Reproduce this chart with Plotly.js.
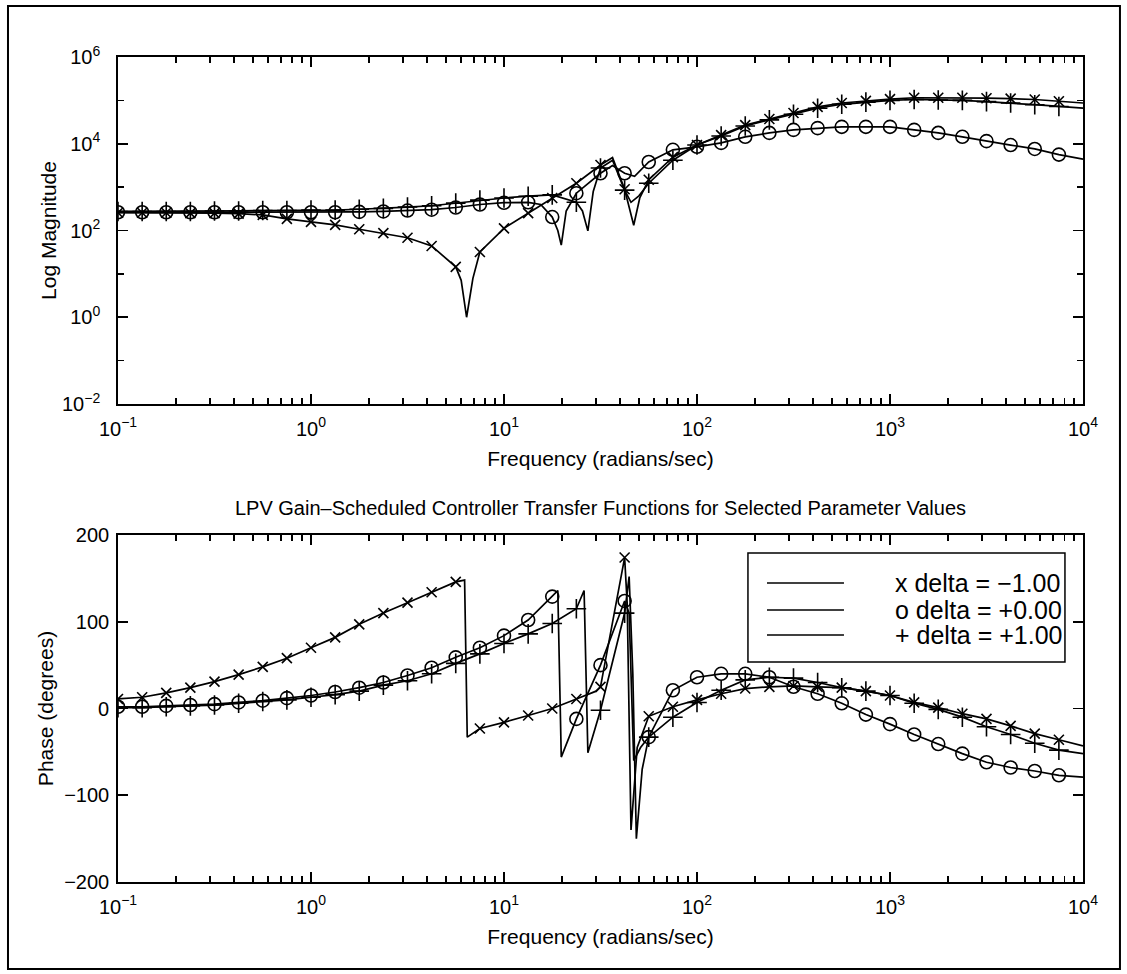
<!DOCTYPE html>
<html>
<head>
<meta charset="utf-8">
<script src="https://cdn.plot.ly/plotly-3.0.1.min.js"></script>
<style>
html,body{margin:0;padding:0;background:#ffffff;}
#chart{width:1127px;height:974px;}
</style>
</head>
<body>
<div id="chart"></div>
<script>
// ---------- data ----------
// frequency grid (rad/s) of the plotted points (markers on all but the last)
const freq = [0.1,0.1334,0.1778,0.2371,0.3162,0.4217,0.5623,0.7499,1,1.334,1.778,2.371,3.162,4.217,5.623,7.499,10,13.34,17.78,23.71,31.62,42.17,56.23,74.99,100,133.4,177.8,237.1,316.2,421.7,562.3,749.9,1000,1334,1778,2371,3162,4217,5623,7499,10000];

// magnitude, delta = -1.00 (x)
const magX = [257,257,257,251,251,245,229,186,158,135,107,87,68,44,14.5,32,112,251,562,1230,3236,891,1479,4898,9333,15850,26920,37150,51290,70790,87100,97720,107200,114800,114800,114800,112200,109600,104700,95500,87100];
const magXNotchF = [6.0,6.4,6.9,36.5,44,47,50.5];
const magXNotchV = [7.1,1.0,7.9,4790,398,132,562];

// magnitude, delta = +0.00 (o)
const magO = [263,263,263,263,263,263,263,263,263,263,269,275,288,302,339,398,437,447,204,724,2089,2089,3802,7244,8511,10470,14450,17780,20890,22910,24550,24550,24550,20890,17780,14450,11480,9333,7586,5623,4400];
const magONotchF = [15.5,19.0,19.8,21.0,36.5,47.5];
const magONotchV = [398,100,46,282,3162,1778];

// magnitude, delta = +1.00 (+)
const magP = [275,275,275,275,282,282,288,288,295,295,309,324,347,372,427,501,562,617,661,447,2754,851,1230,4169,9333,15140,25700,35480,47860,66070,81280,91200,100000,104700,102300,100000,93330,87100,79430,72440,66070];
const magPNotchF = [25.5,27.2,29.0,36.5,45.5,50];
const magPNotchV = [282,98,794,4169,447,631];

// phase (degrees), delta = -1.00 (x)
const phX = [11,13,18,24,31,39,48,58,70,82,97,110,122,134,146,-23,-16,-8,0,11,25,174,-9,2,10,17,23,25,26,25,24,20,15,7,1,-6,-12,-20,-29,-36,-43];
const phXJumpF = [6.25,6.45,30,43.5,45.5,49];
const phXJumpV = [148,-33,20,120,-140,-45];

// phase (degrees), delta = +0.00 (o)
const phO = [2,2,3,4,5,7,9,12,15,19,24,30,38,47,59,70,84,102,129,-12,50,124,-33,21,36,40,40,36,25,17,6,-7,-18,-30,-41,-52,-62,-68,-72,-77,-79];
const phOJumpF = [19.0,19.8,44.5,47,51];
const phOJumpV = [136,-56,110,-60,-45];

// phase (degrees), delta = +1.00 (+)
const phP = [1,1,2,3,4,6,8,10,13,16,20,27,32,40,52,63,75,86,98,115,-2,110,-33,-10,7,21,33,36,35,30,24,20,15,6,-1,-10,-21,-30,-40,-48,-52];
const phPJumpF = [26.0,27.2,44.5,46.5,48.5,52];
const phPJumpV = [136,-51,152,40,-150,-70];

const legendLabels = ['x delta = \u22121.00', 'o delta = +0.00', '+ delta = +1.00'];
const titleText = 'LPV Gain\u2013Scheduled Controller Transfer Functions for Selected Parameter Values';
const magTickVals = [0.01,1,100,10000,1000000];
const magTickText = ['10<sup>\u22122</sup>','10<sup>0</sup>','10<sup>2</sup>','10<sup>4</sup>','10<sup>6</sup>'];
const magMinorVals = [0.1,10,1000,100000];
const freqTickVals = [0.1,1,10,100,1000,10000];
const freqTickText = ['10<sup>\u22121</sup>','10<sup>0</sup>','10<sup>1</sup>','10<sup>2</sup>','10<sup>3</sup>','10<sup>4</sup>'];
const phaseTickVals = [-200,-100,0,100,200];

// ---------- build ----------
const FONT = '"Liberation Sans", Arial, Helvetica, sans-serif';
const nMarkers = freq.length - 1;

function mergeLine(f, v, ef, ev) {
  const pts = f.map((x, i) => [x, v[i]]).concat(ef.map((x, i) => [x, ev[i]]));
  pts.sort((a, b) => a[0] - b[0]);
  return {x: pts.map(p => p[0]), y: pts.map(p => p[1])};
}

const series = [
  {mag: magX, mf: magXNotchF, mv: magXNotchV, ph: phX, pf: phXJumpF, pv: phXJumpV, symbol: 'x-thin', size: 10},
  {mag: magO, mf: magONotchF, mv: magONotchV, ph: phO, pf: phOJumpF, pv: phOJumpV, symbol: 'circle-open', size: 13},
  {mag: magP, mf: magPNotchF, mv: magPNotchV, ph: phP, pf: phPJumpF, pv: phPJumpV, symbol: 'cross-thin', size: 14}
];

const traces = [];
series.forEach(s => {
  const lm = mergeLine(freq, s.mag, s.mf, s.mv);
  const lp = mergeLine(freq, s.ph, s.pf, s.pv);
  const lineStyle = {color: '#000', width: 1.7};
  const mk = {symbol: s.symbol, size: s.size, color: '#000', line: {color: '#000', width: 1.6}};
  traces.push({x: lm.x, y: lm.y, xaxis: 'x', yaxis: 'y', mode: 'lines', line: lineStyle, hoverinfo: 'skip'});
  traces.push({x: freq.slice(0, nMarkers), y: s.mag.slice(0, nMarkers), xaxis: 'x', yaxis: 'y', mode: 'markers', marker: mk, hoverinfo: 'skip'});
  traces.push({x: lp.x, y: lp.y, xaxis: 'x2', yaxis: 'y2', mode: 'lines', line: lineStyle, hoverinfo: 'skip'});
  traces.push({x: freq.slice(0, nMarkers), y: s.ph.slice(0, nMarkers), xaxis: 'x2', yaxis: 'y2', mode: 'markers', marker: mk, hoverinfo: 'skip'});
});

const minorX = [];
for (let d = -1; d < 4; d++) for (let m = 2; m <= 9; m++) minorX.push(m * Math.pow(10, d));

const tickFont = {family: FONT, size: 20, color: '#000'};
const titleFont = {family: FONT, size: 21, color: '#000'};

function xAxis(anchor) {
  return {
    anchor: anchor, type: 'log', range: [-1, 4], domain: [0, 1],
    tickmode: 'array', tickvals: freqTickVals, ticktext: freqTickText,
    ticks: 'inside', ticklen: 10, tickwidth: 1.8, tickcolor: '#000',
    minor: {tickmode: 'array', tickvals: minorX, ticks: 'inside', ticklen: 6, tickwidth: 1.6, tickcolor: '#000', showgrid: false},
    showline: true, linecolor: '#000', linewidth: 1.8, mirror: 'ticks',
    showgrid: false, zeroline: false, tickfont: tickFont, ticklabelstandoff: 6,
    title: {text: 'Frequency (radians/sec)', font: titleFont, standoff: 12},
    fixedrange: true
  };
}

const shapes = [
  // outer frame
  {type: 'rect', xref: 'paper', yref: 'paper', x0: -0.114, x1: 1.0383, y0: -0.1055, y1: 1.0618, line: {color: '#000', width: 2}, fillcolor: 'rgba(0,0,0,0)', layer: 'below'},
  // legend box
  {type: 'rect', xref: 'paper', yref: 'paper', x0: 0.6528, x1: 0.9813, y0: 0.2667, y1: 0.3988, line: {color: '#000', width: 1.5}, fillcolor: '#fff', layer: 'above'}
];
const legendRows = [0.3624, 0.3297, 0.2994];
const annotations = [];
legendRows.forEach((yy, i) => {
  shapes.push({type: 'line', xref: 'paper', yref: 'paper', x0: 0.6725, x1: 0.7523, y0: yy, y1: yy, line: {color: '#000', width: 1.5}});
  annotations.push({xref: 'paper', yref: 'paper', x: 0.8031, y: yy, xanchor: 'left', yanchor: 'middle', text: legendLabels[i], showarrow: false, font: {family: FONT, size: 25, color: '#000'}});
});

const layout = {
  width: 1127, height: 974,
  margin: {l: 118, r: 44, t: 57, b: 92, pad: 0},
  paper_bgcolor: '#fff', plot_bgcolor: '#fff',
  showlegend: false,
  font: {family: FONT, color: '#000', size: 20},
  title: {text: titleText, font: {family: FONT, size: 20, color: '#000'}, x: 0.5, xref: 'paper', xanchor: 'center', y: 0.4533, yref: 'paper', yanchor: 'middle'},
  xaxis: xAxis('y'),
  xaxis2: xAxis('y2'),
  yaxis: {
    anchor: 'x', type: 'log', range: [-2, 6], domain: [0.5794, 1],
    tickmode: 'array', tickvals: magTickVals, ticktext: magTickText,
    ticks: 'inside', ticklen: 10, tickwidth: 1.8, tickcolor: '#000',
    minor: {tickmode: 'array', tickvals: magMinorVals, ticks: 'inside', ticklen: 6, tickwidth: 1.6, tickcolor: '#000', showgrid: false},
    showline: true, linecolor: '#000', linewidth: 1.8, mirror: 'ticks',
    showgrid: false, zeroline: false, tickfont: tickFont, ticklabelstandoff: 12,
    title: {text: 'Log Magnitude', font: titleFont, standoff: 0},
    fixedrange: true
  },
  yaxis2: {
    anchor: 'x2', range: [-200, 200], domain: [0, 0.4206],
    tickmode: 'array', tickvals: phaseTickVals,
    ticks: 'inside', ticklen: 10, tickwidth: 1.8, tickcolor: '#000',
    showline: true, linecolor: '#000', linewidth: 1.8, mirror: 'ticks',
    showgrid: false, zeroline: false, tickfont: tickFont, ticklabelstandoff: 3,
    title: {text: 'Phase (degrees)', font: titleFont, standoff: 5},
    fixedrange: true
  },
  shapes: shapes,
  annotations: annotations
};

Plotly.newPlot('chart', traces, layout, {displayModeBar: false, staticPlot: true});
</script>
</body>
</html>
